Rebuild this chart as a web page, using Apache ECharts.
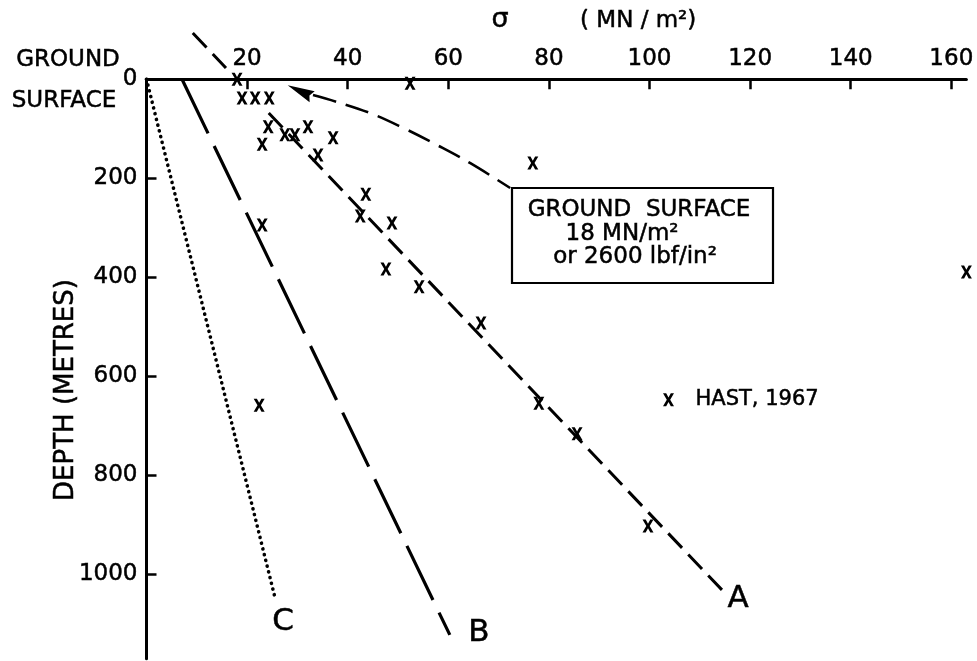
<!DOCTYPE html>
<html><head><meta charset="utf-8">
<script src="https://cdn.jsdelivr.net/npm/echarts@6/dist/echarts.min.js"></script>
<style>html,body{margin:0;padding:0;background:#fff}#c{width:977px;height:661px}</style>
</head><body><div id="c"></div>
<script>
// ---- data (sigma in MN/m2, depth in metres) ----
const xTickValues = [20, 40, 60, 80, 100, 120, 140, 160];
const yTickValues = [0, 200, 400, 600, 800, 1000];
const hastName = 'HAST, 1967';
const hastPoints = [
  [18, 0], [19.0, 38], [21.6, 38], [24.4, 38], [52.4, 8],
  [24.2, 96], [23.0, 131], [27.5, 112], [29.5, 112], [32.1, 96],
  [37.1, 118], [34.1, 153], [43.6, 232], [42.5, 276], [48.8, 290],
  [23.0, 294], [47.6, 383], [54.2, 419], [66.5, 492], [76.8, 169],
  [78.0, 654], [85.6, 716], [99.7, 902], [22.4, 658], [163, 389]
];
const lineAUpper = [[9.2, -93.5], [15.8, -22.8]];
const lineA = [[24.3, 68], [114.4, 1031]];
const lineB = [[7.06, 0], [60.3, 1122]];
const lineC = [[0, 0], [25.5, 1045]];
const groundCurve = [[33.1, 31.7], [37.9, 45.8], [44.4, 68], [51.0, 98], [57.8, 133], [64.3, 169], [72.3, 219.5]];
const arrowHead = [[30.5, 23.6]];

const FONT = '"DejaVu Sans"';
const xSymbol = 'path://M0,0L3.2,0L5.5,4.2L7.8,0L11,0L7.2,6.5L11,13L7.8,13L5.5,8.8L3.2,13L0,13L3.8,6.5Z';
const arrowSymbol = 'path://M6,0L12,27L6,24L0,27Z';
const EMB = 0.5; // slight text emboldening

function txt(x, y, text, size, opts) {
  opts = opts || {};
  const align = opts.align || 'center';
  return {
    type: 'text', x: x, y: y, rotation: opts.rotation || 0, z: 100,
    style: {
      text: text, font: 'normal ' + size + 'px ' + FONT, fill: '#000',
      stroke: '#000', lineWidth: EMB,
      align: align, textAlign: align, verticalAlign: 'middle', textVerticalAlign: 'middle'
    }
  };
}

const chart = echarts.init(document.getElementById('c'));
const lineSeries = (data, type, width, extra) => Object.assign({
  type: 'line', data: data, symbol: 'none', showSymbol: false, clip: false, silent: true,
  lineStyle: { color: '#000', width: width, type: type }
}, extra || {});
const labelStyle = { margin: 9, color: '#000', fontFamily: 'DejaVu Sans', fontSize: 23,
  textBorderColor: '#000', textBorderWidth: EMB, formatter: v => String(v) };

chart.setOption({
  animation: false,
  backgroundColor: '#fff',
  grid: { left: 146.5, right: 10.6, top: 79.3, bottom: 2.3 },
  xAxis: {
    type: 'value', position: 'top', min: 0, max: 163,
    axisLine: { onZero: false, lineStyle: { color: '#000', width: 3 } },
    axisTick: { show: true, inside: true, length: 10, customValues: xTickValues, lineStyle: { color: '#000', width: 2.5 } },
    axisLabel: Object.assign({ customValues: xTickValues }, labelStyle),
    splitLine: { show: false }
  },
  yAxis: {
    type: 'value', inverse: true, min: 0, max: 1170,
    axisLine: { onZero: false, lineStyle: { color: '#000', width: 3 } },
    axisTick: { show: true, inside: true, length: 10, customValues: yTickValues.filter(v => v > 0), lineStyle: { color: '#000', width: 2.5 } },
    axisLabel: Object.assign({ customValues: yTickValues }, labelStyle),
    splitLine: { show: false }
  },
  legend: {
    data: [{ name: hastName, icon: xSymbol }],
    left: 658, top: 384, itemWidth: 44, itemHeight: 13, selectedMode: false,
    itemStyle: { color: '#000' },
    textStyle: { color: '#000', fontFamily: 'DejaVu Sans', fontSize: 21, textBorderColor: '#000', textBorderWidth: EMB }
  },
  series: [
    lineSeries(lineAUpper, [20, 9], 3),
    lineSeries(lineA, [20, 9], 3),
    lineSeries(lineB, [60, 14], 3.2),
    lineSeries(lineC, [0.1, 5.8], 3.6, { lineStyle: { color: '#000', width: 3.6, type: [0.1, 5.8], cap: 'round' } }),
    lineSeries(groundCurve, [24, 10], 2.6, { smooth: 0.4 }),
    { type: 'scatter', data: arrowHead, symbol: arrowSymbol, symbolSize: [12, 27], symbolRotate: 65,
      itemStyle: { color: '#000', opacity: 1 }, silent: true, clip: false },
    { type: 'scatter', name: hastName, data: hastPoints, symbol: xSymbol, symbolSize: [11, 13],
      itemStyle: { color: '#000', opacity: 1 }, clip: false, silent: true }
  ],
  graphic: [
    txt(68, 60, 'GROUND', 23),
    txt(64, 101, 'SURFACE', 23),
    txt(500, 20, 'σ', 27),
    txt(580, 21, '( MN / m²)', 23, { align: 'left' }),
    { type: 'rect', z: 90, shape: { x: 512, y: 188, width: 261, height: 95 },
      style: { fill: '#fff', stroke: '#000', lineWidth: 2.2 } },
    txt(639, 210, 'GROUND  SURFACE', 23),
    txt(622, 234, '18 MN/m²', 23),
    txt(635, 257, 'or 2600 lbf/in²', 23),
    txt(738, 599, 'A', 31),
    txt(479, 633, 'B', 31),
    txt(283, 622, 'C', 31),
    txt(66, 390, 'DEPTH (METRES)', 26, { rotation: Math.PI / 2 })
  ]
});
</script>
</body></html>
